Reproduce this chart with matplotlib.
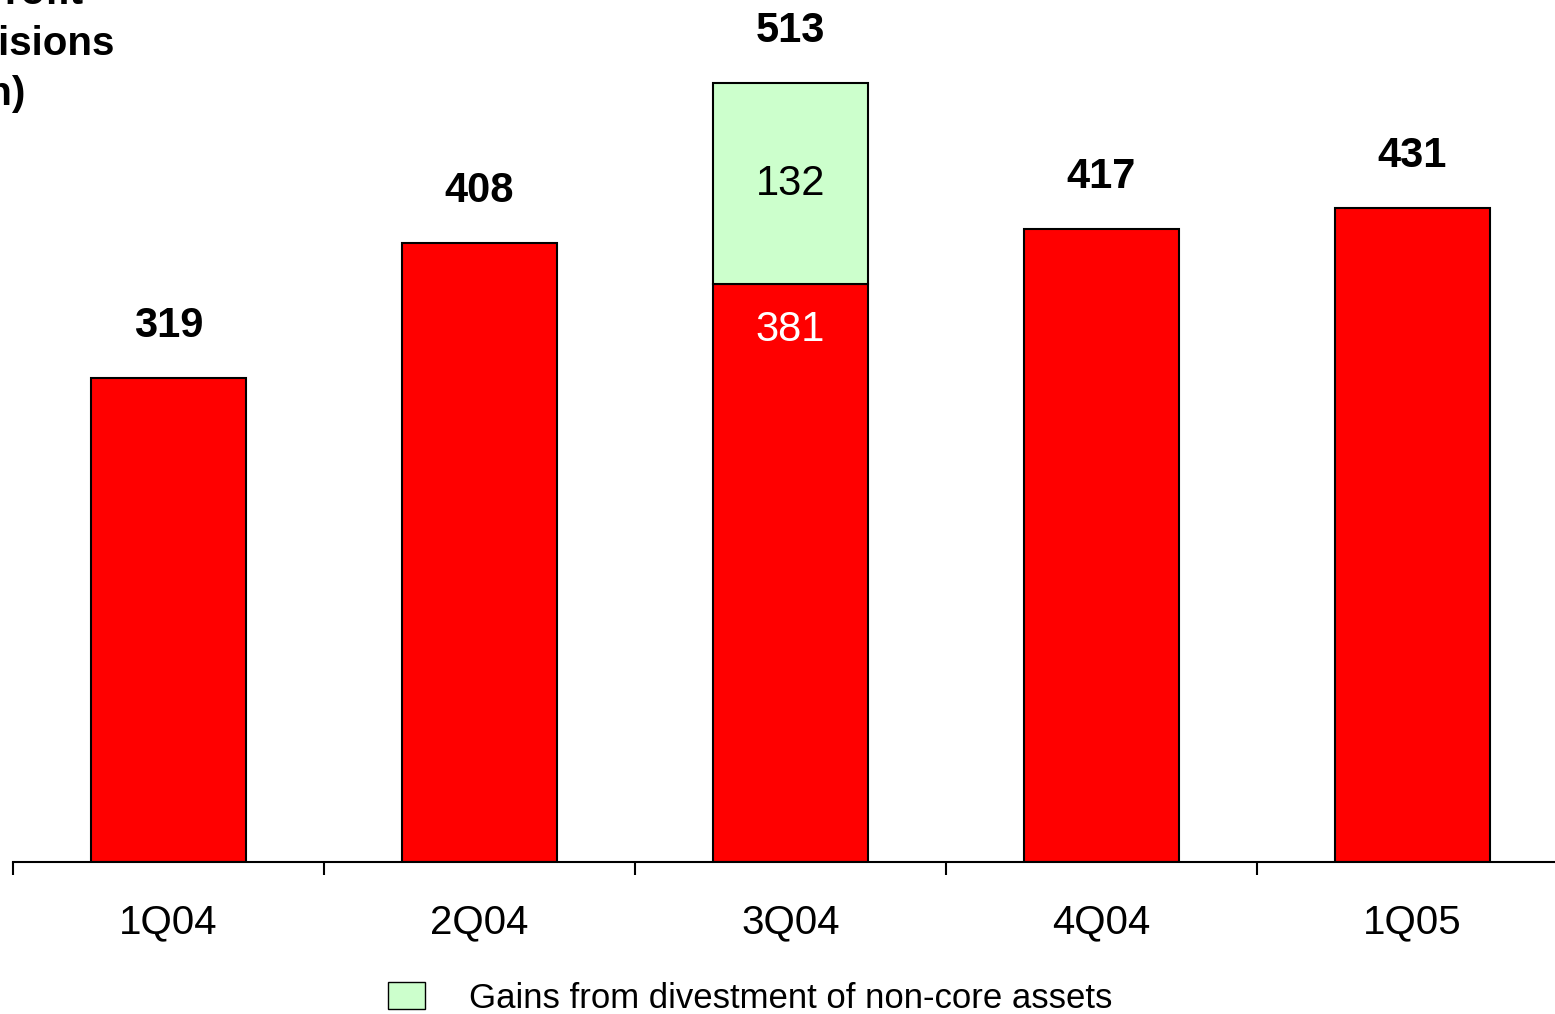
import matplotlib
matplotlib.use('Agg')
import matplotlib.pyplot as plt
from matplotlib.patches import Patch

plt.rcParams['font.family'] = ['Liberation Sans', 'DejaVu Sans']

# quarters and values
quarters = ['1Q04', '2Q04', '3Q04', '4Q04', '1Q05']
core_profit = [319, 408, 381, 417, 431]
divest_gains = [0, 0, 132, 0, 0]
totals = [319, 408, 513, 417, 431]

fig = plt.figure(figsize=(15.55, 10.14), dpi=100)
# axes runs slightly past the right edge, like the original slide
ax = fig.add_axes([13 / 1555, 152 / 1014, 1555 / 1555, 850 / 1014])

x = list(range(len(quarters)))
ax.bar(x, core_profit, width=0.5, color='#ff0000', edgecolor='black', linewidth=1.5)
green_bars = ax.bar(x, divest_gains, width=0.5, bottom=core_profit, color='#ccffcc',
                    edgecolor='black', linewidth=1.5)
# hide the zero-height green bars
for b, g in zip(green_bars, divest_gains):
    if g == 0:
        b.set_visible(False)

ax.set_xlim(-0.5, 4.5)
ax.set_ylim(0, 560)

# total labels above bars
for i, t in enumerate(totals):
    ax.annotate(str(t), (i, t), xytext=(0, 52), textcoords='offset pixels',
                ha='center', va='center', fontsize=30, fontweight='bold')

# labels inside the stacked bar
for i, (c, g) in enumerate(zip(core_profit, divest_gains)):
    if g > 0:
        ax.text(i, c + g / 2, str(g), ha='center', va='center', fontsize=30, color='black')
        ax.annotate(str(c), (i, c), xytext=(0, -46), textcoords='offset pixels',
                    ha='center', va='center', fontsize=30, color='white')

# spines and ticks
for s in ['top', 'right', 'left']:
    ax.spines[s].set_visible(False)
ax.spines['bottom'].set_linewidth(1.5)
ax.set_yticks([])
ax.set_xticks([i - 0.5 for i in range(len(quarters) + 1)], minor=False)
ax.set_xticklabels([])
ax.tick_params(axis='x', which='major', direction='out', length=9, width=1.5)
ax.set_xticks(x, minor=True)
ax.set_xticklabels(quarters, minor=True, fontsize=29)
ax.tick_params(axis='x', which='minor', length=0, pad=30)

# cropped title in the top-left corner
fig.text(-223 / 1555, 1 + 26 / 1014, 'Operating Profit\nbefore provisions\n(PLN million)',
         ha='left', va='top', fontsize=29, fontweight='bold', linespacing=1.42)

legend_patch = Patch(facecolor='#ccffcc', edgecolor='black', linewidth=1,
                     label='Gains from divestment of non-core assets')
ax.legend(handles=[legend_patch], loc='center left', bbox_to_anchor=(388 / 1555, 16 / 1014),
          bbox_transform=fig.transFigure, frameon=False, fontsize=25,
          handlelength=1.07, handleheight=0.86, handletextpad=1.25, borderpad=0, borderaxespad=0)

fig.savefig('out.png', dpi=100)
